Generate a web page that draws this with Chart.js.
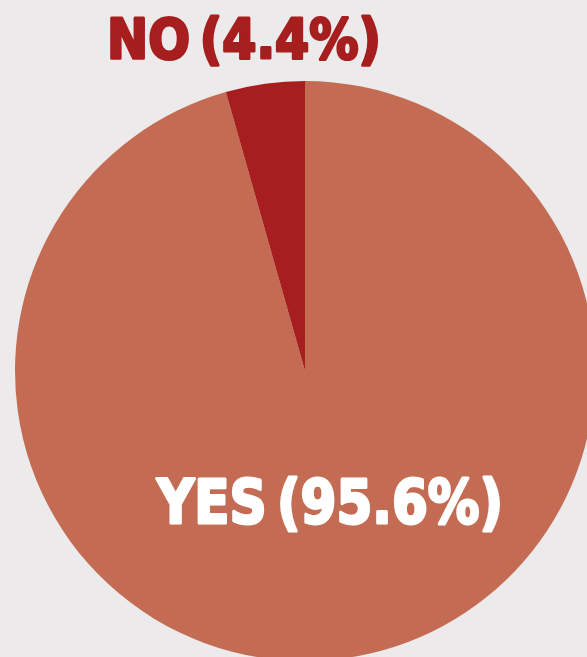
<!DOCTYPE html>
<html>
<head>
<meta charset="utf-8">
<script src="https://cdn.jsdelivr.net/npm/chart.js@4"></script>
<style>
  html, body { margin: 0; padding: 0; background: #ECEAEB; overflow: hidden; width: 587px; height: 657px; }
  #wrap { position: absolute; left: 0; top: 0; width: 610px; height: 742px; }
</style>
</head>
<body>
<div id="wrap"><canvas id="pie" width="610" height="742"></canvas></div>
<script>
// data
const labels = ["YES", "NO"];
const values = [95.6, 4.4];
const colors = ["#C46C53", "#A71E1F"];

// text labels drawn next to the slices
const sliceText = {
  id: "sliceText",
  afterDraw(chart) {
    const ctx = chart.ctx;
    const arc = chart.getDatasetMeta(0).data[0];
    const cx = arc.x, cy = arc.y, r = arc.outerRadius;
    const items = [
      { text: labels[1] + "\u2009(" + values[1].toFixed(1) + "%)", x: cx - 61, y: cy - r - 38, w: 274, size: 56, color: colors[1] },
      { text: labels[0] + "\u2009(" + values[0].toFixed(1) + "%)", x: cx + 25, y: cy + 136, w: 346, size: 60, color: "#FFFFFF" },
    ];
    ctx.save();
    ctx.textAlign = "center";
    ctx.textBaseline = "middle";
    items.forEach(it => {
      ctx.font = "bold " + it.size + "px 'DejaVu Sans'";
      const m = ctx.measureText(it.text).width;
      ctx.save();
      ctx.translate(it.x, it.y);
      ctx.scale(it.w / m, 1);
      ctx.fillStyle = it.color;
      ctx.strokeStyle = it.color;
      ctx.lineWidth = 3;
      ctx.lineJoin = "round";
      ctx.strokeText(it.text, 0, 0);
      ctx.fillText(it.text, 0, 0);
      ctx.restore();
    });
    ctx.restore();
  }
};

new Chart(document.getElementById("pie").getContext("2d"), {
  type: "pie",
  data: {
    labels: labels,
    datasets: [{
      data: values,
      backgroundColor: colors,
      borderWidth: 0,
    }],
  },
  options: {
    responsive: false,
    animation: false,
    layout: { padding: 15 },
    plugins: {
      legend: { display: false },
      tooltip: { enabled: false },
    },
  },
  plugins: [sliceText],
});
</script>
</body>
</html>
